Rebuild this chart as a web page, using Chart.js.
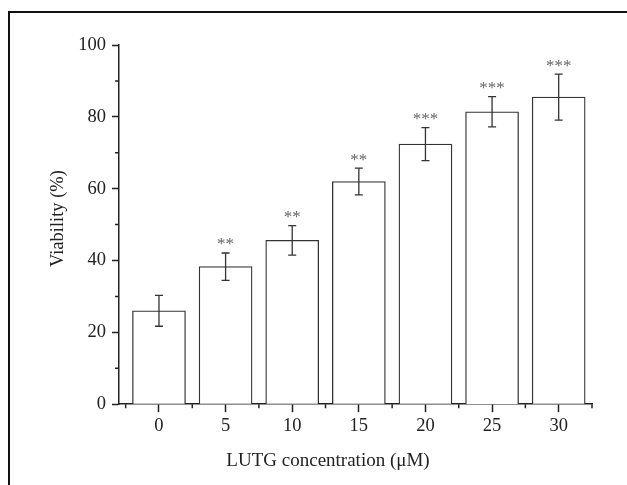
<!DOCTYPE html>
<html><head><meta charset="utf-8">
<script src="https://cdn.jsdelivr.net/npm/chart.js@4"></script>
<style>
html,body{margin:0;padding:0;background:#fff;overflow:hidden}
#frame{position:absolute;left:8px;top:11px;width:700px;height:600px;border-top:2px solid #111;border-left:2px solid #111}
#wrap{position:absolute;left:0;top:0;width:627px;height:485px}
</style></head><body>
<div id="frame"></div>
<div id="wrap"><canvas id="c" width="627" height="485"></canvas></div>
<script>
const concentrations = [0, 5, 10, 15, 20, 25, 30];
const viability = [26.0, 38.3, 45.6, 62.0, 72.4, 81.4, 85.5];
const errors = [4.3, 3.8, 4.1, 3.7, 4.6, 4.2, 6.4];
const significance = ['', '**', '**', '**', '***', '***', '***'];
const xTicks = [0, 5, 10, 15, 20, 25, 30];
const xMinorTicks = [-2.5, 2.5, 7.5, 12.5, 17.5, 22.5, 27.5, 32.5];
const yTicks = [0, 20, 40, 60, 80, 100];
const yMinorTicks = [10, 30, 50, 70, 90];
const yTitle = 'Viability (%)';
const xTitle = 'LUTG concentration (μM)';

const FONT = 'Liberation Serif';
const INK = '#222';

const extras = {
  id: 'extras',
  afterDatasetsDraw(chart) {
    const ctx = chart.ctx;
    const xs = chart.scales.x, ys = chart.scales.y;
    const meta = chart.getDatasetMeta(0);
    ctx.save();
    // error bars
    ctx.strokeStyle = '#333';
    ctx.lineWidth = 1.3;
    meta.data.forEach((bar, i) => {
      const x = bar.x;
      const yt = ys.getPixelForValue(viability[i] + errors[i]);
      const yb = ys.getPixelForValue(viability[i] - errors[i]);
      ctx.beginPath();
      ctx.moveTo(x, yt); ctx.lineTo(x, yb);
      ctx.moveTo(x - 4, yt); ctx.lineTo(x + 4, yt);
      ctx.moveTo(x - 4, yb); ctx.lineTo(x + 4, yb);
      ctx.stroke();
      if (significance[i]) {
        ctx.fillStyle = '#666';
        ctx.font = '17px "' + FONT + '"';
        ctx.textAlign = 'center';
        ctx.textBaseline = 'middle';
        ctx.fillText(significance[i], x, yt - 8);
      }
    });
    // minor ticks
    ctx.strokeStyle = INK;
    ctx.lineWidth = 1.5;
    ctx.beginPath();
    yMinorTicks.forEach(v => {
      const y = ys.getPixelForValue(v);
      ctx.moveTo(xs.left, y); ctx.lineTo(xs.left - 4, y);
    });
    xMinorTicks.forEach(v => {
      const x = xs.getPixelForValue(v);
      ctx.moveTo(x, ys.bottom); ctx.lineTo(x, ys.bottom + 4);
    });
    ctx.stroke();
    // y axis title
    ctx.translate(58, (ys.top + ys.bottom) / 2 - 6);
    ctx.rotate(-Math.PI / 2);
    ctx.fillStyle = INK;
    ctx.font = '18.5px "' + FONT + '"';
    ctx.textAlign = 'center';
    ctx.textBaseline = 'middle';
    ctx.fillText(yTitle, 0, 0);
    ctx.restore();
  }
};

new Chart(document.getElementById('c'), {
  type: 'bar',
  data: {
    datasets: [{
      data: concentrations.map((c, i) => ({ x: c, y: viability[i] })),
      backgroundColor: '#fff',
      borderColor: '#333',
      borderWidth: 1.3,
      barThickness: 53
    }]
  },
  options: {
    responsive: false,
    animation: false,
    devicePixelRatio: 1,
    layout: { padding: { left: 64, right: 35, top: 45, bottom: 0 } },
    plugins: {
      legend: { display: false },
      tooltip: { enabled: false },
      title: {
        display: true, position: 'bottom', text: xTitle,
        color: INK, font: { family: FONT, size: 19, weight: 'normal' },
        padding: { top: 0, bottom: 13 }
      }
    },
    scales: {
      x: {
        type: 'linear', min: -3, max: 32.5, offset: false,
        afterBuildTicks: s => { s.ticks = xTicks.map(v => ({ value: v })); },
        afterFit: s => { s.height = 45; },
        border: { color: INK, width: 1.5 },
        grid: { offset: false, drawOnChartArea: false, tickLength: 8, tickColor: INK, tickWidth: 1.5 },
        ticks: { color: INK, font: { family: FONT, size: 18.5 }, padding: 3, maxRotation: 0, autoSkip: false }
      },
      y: {
        min: 0, max: 100,
        afterBuildTicks: s => { s.ticks = yTicks.map(v => ({ value: v })); },
        afterFit: s => { s.width = 55; },
        border: { color: INK, width: 1.5 },
        grid: { drawOnChartArea: false, tickLength: 7, tickColor: INK, tickWidth: 1.5 },
        ticks: { color: INK, font: { family: FONT, size: 18.5 }, padding: 6 }
      }
    }
  },
  plugins: [extras]
});
</script>
</body></html>
